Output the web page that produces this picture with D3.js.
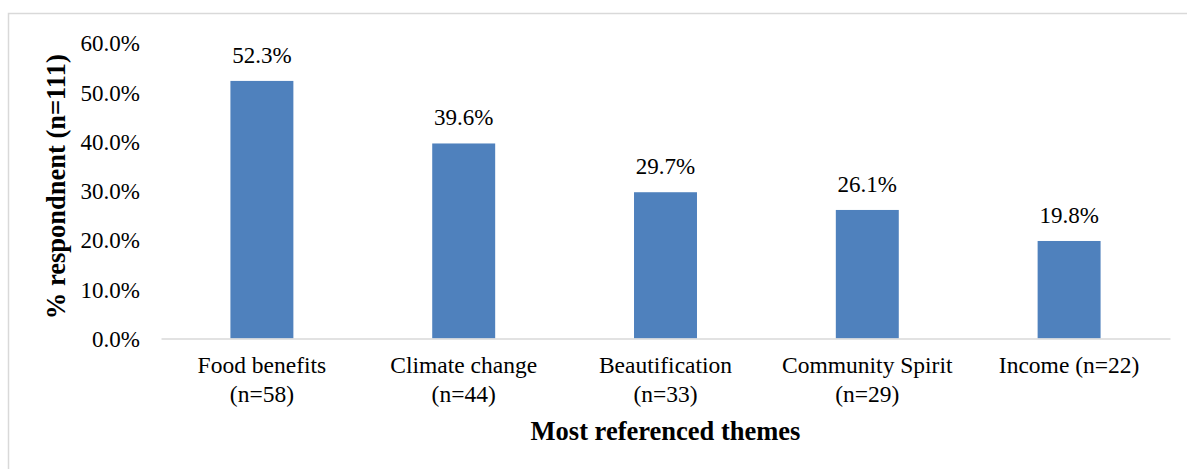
<!DOCTYPE html>
<html>
<head>
<meta charset="utf-8">
<script src="https://cdn.jsdelivr.net/npm/d3@7"></script>
<style>
  html, body { margin: 0; padding: 0; background: #fff; }
  svg { display: block; }
  svg text { font-family: "Liberation Serif", "Times New Roman", serif !important; fill: #000; }
</style>
</head>
<body>
<svg id="chart" width="1187" height="469"></svg>
<script>
// Themes referenced by respondents, with wrapped label lines
const categories = [
  ["Food benefits", "(n=58)"],
  ["Climate change", "(n=44)"],
  ["Beautification", "(n=33)"],
  ["Community Spirit", "(n=29)"],
  ["Income (n=22)"]
];
const percentValues = [52.3, 39.6, 29.7, 26.1, 19.8];
const yTicks = [0, 10, 20, 30, 40, 50, 60];
const yTitle = "% respondnent (n=111)";
const xTitle = "Most referenced themes";

const svg = d3.select("#chart");
const W = 1187, H = 469;
const margin = { left: 161, right: 17, top: 43, bottom: 130.5 };
const plotW = W - margin.left - margin.right;
const plotH = H - margin.top - margin.bottom;
const serif = '"Liberation Serif", "Times New Roman", serif';

// outer chart-area frame
svg.append("rect")
  .attr("x", 8.5).attr("y", 13.5)
  .attr("width", W + 10).attr("height", H + 10)
  .attr("fill", "none")
  .attr("stroke", "#d9d9d9")
  .attr("stroke-width", 1.5);

const g = svg.append("g").attr("transform", `translate(${margin.left},${margin.top})`);

const keys = categories.map((c, i) => i);
const x = d3.scaleBand().domain(keys).range([0, plotW]).paddingInner(0.688).paddingOuter(0.344);
const y = d3.scaleLinear().domain([0, 60]).range([plotH, 0]);

// y axis: labels only
const yAxis = d3.axisLeft(y).tickValues(yTicks).tickSize(0).tickPadding(21)
  .tickFormat(d => d.toFixed(1) + "%");
const yg = g.append("g").call(yAxis).attr("font-family", serif);
yg.select(".domain").remove();
yg.selectAll("text").style("font-size", "23px").attr("dy", "0.34em");

// bars
g.selectAll("rect.bar")
  .data(percentValues)
  .join("rect")
  .attr("class", "bar")
  .attr("x", (d, i) => x(i))
  .attr("y", d => y(d))
  .attr("width", x.bandwidth())
  .attr("height", d => y(0) - y(d))
  .attr("fill", "#4f81bd");

// value labels
g.selectAll("text.val")
  .data(percentValues)
  .join("text")
  .attr("class", "val")
  .attr("x", (d, i) => x(i) + x.bandwidth() / 2)
  .attr("y", d => y(d) - 18)
  .attr("text-anchor", "middle")
  .style("font-size", "23px")
  .text(d => d.toFixed(1) + "%");

// x axis baseline and category labels
const xAxis = d3.axisBottom(x).tickSize(0).tickFormat(() => "");
const xg = g.append("g").attr("transform", `translate(0,${plotH})`).call(xAxis).attr("font-family", serif);
xg.select(".domain").attr("stroke", "#d9d9d9").attr("stroke-width", 1.5);

xg.selectAll(".tick").each(function(i) {
  const t = d3.select(this).select("text");
  t.attr("y", 0).attr("dy", null).style("font-size", "23.5px");
  categories[i].forEach((line, k) => {
    t.append("tspan").attr("x", 0).attr("y", 34 + k * 29).text(line);
  });
});

// axis titles
svg.append("text")
  .attr("transform", `translate(65,${margin.top + plotH / 2 - 4}) rotate(-90)`)
  .attr("text-anchor", "middle")
  .style("font-size", "26.5px")
  .style("font-weight", "bold")
  .text(yTitle);

svg.append("text")
  .attr("x", margin.left + plotW / 2)
  .attr("y", 440)
  .attr("text-anchor", "middle")
  .style("font-size", "26.5px")
  .style("font-weight", "bold")
  .text(xTitle);
</script>
</body>
</html>
